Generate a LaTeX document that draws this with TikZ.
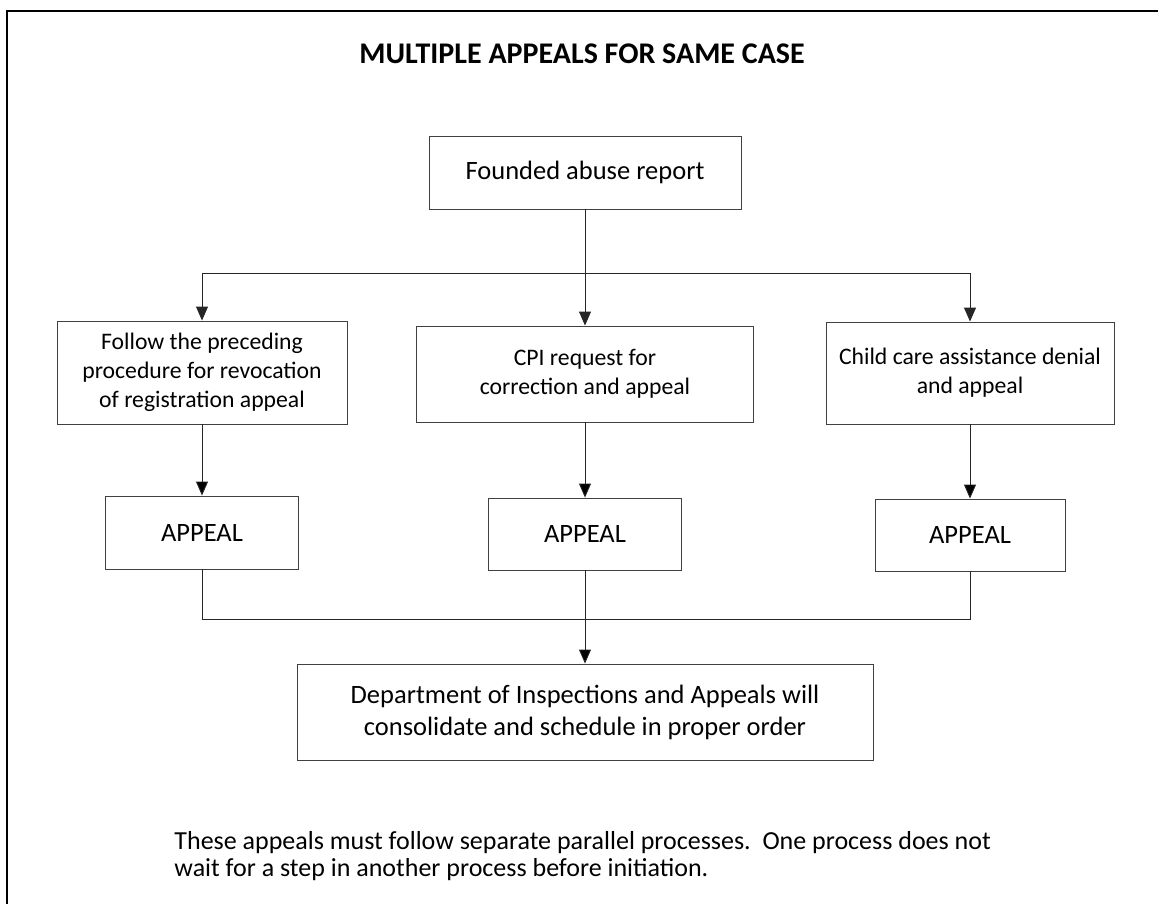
\documentclass[tikz,border=0pt]{standalone}
\usepackage{fontspec}
\setmainfont{Carlito}
\usetikzlibrary{arrows.meta}

\begin{document}
\begin{tikzpicture}
      [x=1pt,y=-1pt,every node/.style={draw=black!75,line width=0.9pt,rectangle,align=center,
        inner sep=0pt,font=\fontsize{26.5}{32}\selectfont}]

      \tikzstyle{plain} = [draw=none]
      \tikzstyle{small} = [font=\fontsize{23.7}{28.7}\selectfont]
      \tikzstyle{wire} = [draw=black!85, line width=0.9pt, >={Triangle[width=12pt,length=14pt]}]

      \useasboundingbox (0,0) rectangle (1158,904);
      \draw[line width=2.5pt] (7,904) -- (7,11) -- (1158,11);

      \node[plain, font=\fontsize{30}{36}\selectfont\bfseries] (0) at (582,54) {MULTIPLE APPEALS FOR SAME CASE};

      \node[minimum width=312, minimum height=73]  (1) at (585,172.5) {Founded abuse report};
      \node[small, minimum width=290, minimum height=103] (2) at (202,372.5)
            {Follow the preceding\\procedure for revocation\\of registration appeal};
      \node[small, minimum width=337, minimum height=96]  (3) at (585,374) {CPI request for\\correction and appeal};
      \node[small, minimum width=288, minimum height=102] (4) at (970,373) {Child care assistance denial\\and appeal};

      \node[minimum width=193, minimum height=73]  (5) at (202,532.5) {APPEAL};
      \node[minimum width=193, minimum height=72]  (6) at (585,534) {APPEAL};
      \node[minimum width=190, minimum height=72]  (7) at (970,535) {APPEAL};

      \node[minimum width=576, minimum height=96]  (8) at (585,712)
            {Department of Inspections and Appeals will\\consolidate and schedule in proper order};

      \node[plain, anchor=north west, align=left, font=\fontsize{26}{27}\selectfont] (9) at (174,831)
            {These appeals must follow separate parallel processes.~~One process does not\\
             wait for a step in another process before initiation.};

      \coordinate (j1) at (585,273);
      \coordinate (j2) at (585,619);

      \path[wire]
            (1) edge (j1)
            (2) edge [->] (5)
            (3) edge [->] (6)
            (4) edge [->] (7)
            (j2) edge [->] (8);
      \draw[wire, ->] (j1) -| (2);
      \draw[wire, ->] (j1) -- (3);
      \draw[wire, ->] (j1) -| (4);
      \draw[wire] (5) |- (j2);
      \draw[wire] (7) |- (j2);
      \draw[wire] (6) -- (j2);
    \end{tikzpicture}
\end{document}
